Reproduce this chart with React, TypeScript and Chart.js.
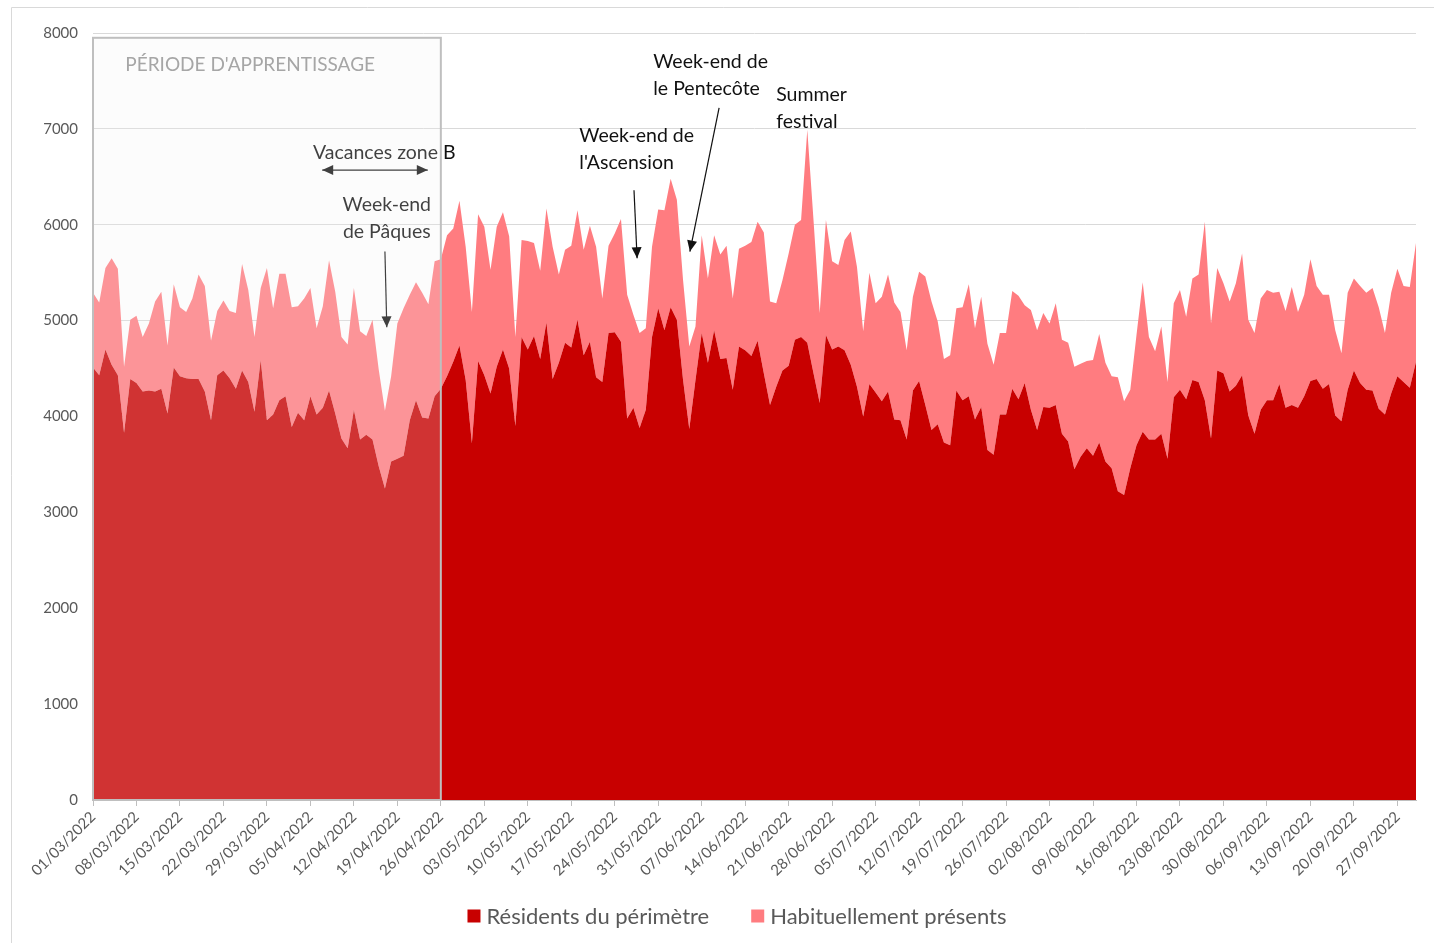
import React, { useEffect, useRef } from 'react';
import { Chart, registerables } from 'chart.js';

Chart.register(...registerables);

const FONT = "Lato, 'Noto Sans', sans-serif";

const weekLabels = [
  '01/03/2022', '08/03/2022', '15/03/2022', '22/03/2022', '29/03/2022', '05/04/2022',
  '12/04/2022', '19/04/2022', '26/04/2022', '03/05/2022', '10/05/2022', '17/05/2022',
  '24/05/2022', '31/05/2022', '07/06/2022', '14/06/2022', '21/06/2022', '28/06/2022',
  '05/07/2022', '12/07/2022', '19/07/2022', '26/07/2022', '02/08/2022', '09/08/2022',
  '16/08/2022', '23/08/2022', '30/08/2022', '06/09/2022', '13/09/2022', '20/09/2022',
  '27/09/2022',
];

const yTickValues = [0, 1000, 2000, 3000, 4000, 5000, 6000, 7000, 8000];

const seriesNames = ['Résidents du périmètre', 'Habituellement présents'];
const seriesColors = ['#C80000', '#FF7C80'];

// Résidents du périmètre (daily, 01/03/2022 -> 30/09/2022)
const residents = [
  4510, 4430, 4700, 4540, 4430, 3830, 4390, 4350, 4260, 4270,
  4260, 4290, 4030, 4510, 4420, 4400, 4390, 4390, 4260, 3960,
  4430, 4480, 4400, 4290, 4480, 4360, 4050, 4590, 3960, 4020,
  4170, 4210, 3890, 4040, 3960, 4210, 4020, 4090, 4270, 4030,
  3770, 3670, 4070, 3760, 3810, 3760, 3480, 3250, 3530, 3560,
  3590, 3960, 4170, 3990, 3980, 4210, 4290, 4420, 4570, 4740,
  4380, 3720, 4580, 4430, 4240, 4520, 4700, 4500, 3900, 4830,
  4700, 4840, 4600, 4980, 4390, 4560, 4770, 4720, 5010, 4640,
  4780, 4410, 4360, 4870, 4880, 4780, 3980, 4090, 3880, 4070,
  4830, 5130, 4900, 5140, 5010, 4380, 3870, 4380, 4870, 4560,
  4900, 4600, 4610, 4280, 4730, 4690, 4630, 4790, 4450, 4120,
  4310, 4480, 4530, 4800, 4830, 4770, 4450, 4140, 4850, 4700,
  4730, 4690, 4540, 4310, 4000, 4340, 4250, 4160, 4260, 3970,
  3960, 3760, 4270, 4370, 4120, 3860, 3920, 3730, 3700, 4270,
  4170, 4210, 3970, 4100, 3650, 3600, 4020, 4020, 4290, 4180,
  4350, 4070, 3860, 4100, 4090, 4120, 3820, 3740, 3450, 3580,
  3670, 3590, 3730, 3530, 3460, 3220, 3180, 3460, 3700, 3840,
  3760, 3760, 3820, 3560, 4200, 4280, 4180, 4380, 4360, 4170,
  3770, 4480, 4450, 4260, 4320, 4430, 4010, 3820, 4070, 4170,
  4170, 4340, 4090, 4120, 4090, 4210, 4370, 4390, 4290, 4340,
  4010, 3950, 4280, 4480, 4350, 4280, 4270, 4080, 4020, 4240,
  4420, 4360, 4300, 4570,
];

// Habituellement présents (stacked on top of residents)
const habituels = [
  780, 760, 850, 1110, 1110, 690, 620, 700, 570, 700,
  940, 1010, 710, 870, 720, 690, 840, 1090, 1100, 830,
  670, 730, 700, 790, 1110, 960, 780, 750, 1590, 1110,
  1320, 1280, 1250, 1110, 1270, 1130, 900, 1060, 1360, 1270,
  1060, 1080, 1270, 1130, 1030, 1250, 1010, 810, 890, 1410,
  1540, 1310, 1230, 1300, 1190, 1410, 1350, 1470, 1390, 1510,
  1390, 1370, 1530, 1550, 1290, 1460, 1430, 1380, 930, 1010,
  1130, 970, 920, 1190, 1380, 920, 970, 1060, 1140, 1100,
  1210, 1360, 870, 910, 1030, 1280, 1290, 970, 990, 850,
  940, 1030, 1250, 1340, 1250, 1040, 860, 560, 1020, 880,
  990, 1090, 1170, 950, 1020, 1090, 1190, 1240, 1470, 1080,
  870, 940, 1170, 1200, 1220, 2220, 1600, 940, 1200, 920,
  850, 1150, 1390, 1250, 890, 1160, 930, 1090, 1220, 1220,
  1130, 930, 980, 1140, 1340, 1340, 1070, 870, 940, 860,
  970, 1170, 950, 1150, 1110, 940, 850, 850, 1020, 1080,
  810, 1040, 1040, 980, 880, 1060, 980, 1030, 1070, 970,
  910, 1000, 1130, 1030, 960, 1190, 980, 820, 1150, 1560,
  1070, 920, 1120, 800, 980, 1040, 860, 1060, 1120, 1860,
  1200, 1070, 940, 940, 1070, 1270, 1000, 1050, 1160, 1150,
  1120, 960, 1010, 1230, 1000, 1060, 1270, 970, 980, 930,
  890, 710, 1010, 960, 1010, 1010, 1070, 1060, 850, 1050,
  1120, 1000, 1050, 1240,
];

// Learning period: first day index -> last day index (01/03 -> 26/04)
const learningPeriod = [0, 56];
const learningLabel = "PÉRIODE D'APPRENTISSAGE";

// Annotations (positions in data units: day index, value)
const annotationTexts = [
  { lines: ['Vacances zone B'], at: [46.9, 6750], align: 'center' },
  { lines: ['Week-end', 'de Pâques'], at: [47.3, 6210], align: 'center' },
  { lines: ['Week-end de', "l'Ascension"], at: [78.3, 6930], align: 'left' },
  { lines: ['Week-end de', 'le Pentecôte'], at: [90.2, 7700], align: 'left' },
  { lines: ['Summer', 'festival'], at: [110.0, 7355], align: 'left' },
];
const annotationArrows = [
  { from: [36.9, 6570], to: [53.9, 6570], both: true },
  { from: [47.0, 5720], to: [47.3, 4930], both: false },
  { from: [87.1, 6360], to: [87.6, 5650], both: false },
  { from: [100.8, 7220], to: [96.1, 5720], both: false },
];

const dayLabels: string[] = residents.map((_, i) => {
  const d = new Date(Date.UTC(2022, 2, 1) + i * 86400000);
  const dd = String(d.getUTCDate()).padStart(2, '0');
  const mm = String(d.getUTCMonth() + 1).padStart(2, '0');
  return `${dd}/${mm}/${d.getUTCFullYear()}`;
});

function arrowHead(ctx: CanvasRenderingContext2D, x1: number, y1: number, x2: number, y2: number) {
  const ang = Math.atan2(y2 - y1, x2 - x1);
  const len = 11;
  const half = 5;
  ctx.beginPath();
  ctx.moveTo(x2, y2);
  ctx.lineTo(x2 - len * Math.cos(ang) + half * Math.sin(ang), y2 - len * Math.sin(ang) - half * Math.cos(ang));
  ctx.lineTo(x2 - len * Math.cos(ang) - half * Math.sin(ang), y2 - len * Math.sin(ang) + half * Math.cos(ang));
  ctx.closePath();
  ctx.fill();
}

const overlayPlugin = {
  id: 'overlayPlugin',
  afterDatasetsDraw(chart: any) {
    const { ctx, scales } = chart;
    const xs = scales.x;
    const ys = scales.y;
    ctx.save();
    // annotations
    ctx.font = `19.5px ${FONT}`;
    ctx.fillStyle = '#111111';
    ctx.textBaseline = 'middle';
    annotationTexts.forEach((a) => {
      const x = xs.getPixelForValue(a.at[0]);
      const y = ys.getPixelForValue(a.at[1]);
      ctx.textAlign = a.align;
      a.lines.forEach((l, k) => ctx.fillText(l, x, y + k * 27));
    });
    ctx.strokeStyle = '#111111';
    ctx.lineWidth = 1.2;
    annotationArrows.forEach((a) => {
      const x1 = xs.getPixelForValue(a.from[0]);
      const y1 = ys.getPixelForValue(a.from[1]);
      const x2 = xs.getPixelForValue(a.to[0]);
      const y2 = ys.getPixelForValue(a.to[1]);
      ctx.beginPath();
      ctx.moveTo(x1, y1);
      ctx.lineTo(x2, y2);
      ctx.stroke();
      arrowHead(ctx, x1, y1, x2, y2);
      if (a.both) arrowHead(ctx, x2, y2, x1, y1);
    });
    // learning period box
    const bx0 = xs.getPixelForValue(learningPeriod[0]);
    const bx1 = xs.getPixelForValue(learningPeriod[1]);
    const by0 = ys.getPixelForValue(7950);
    const by1 = ys.getPixelForValue(0);
    ctx.fillStyle = 'rgba(242,242,242,0.21)';
    ctx.fillRect(bx0, by0, bx1 - bx0, by1 - by0);
    ctx.strokeStyle = '#BFBFBF';
    ctx.lineWidth = 2;
    ctx.strokeRect(bx0, by0, bx1 - bx0, by1 - by0);
    ctx.font = `19px ${FONT}`;
    ctx.fillStyle = '#A6A6A6';
    ctx.textAlign = 'left';
    ctx.fillText(learningLabel, xs.getPixelForValue(5.2), ys.getPixelForValue(7670));
    ctx.restore();
  },
  afterDraw(chart: any) {
    const { ctx } = chart;
    ctx.save();
    // outer frame
    ctx.strokeStyle = '#D9D9D9';
    ctx.lineWidth = 1;
    ctx.beginPath();
    ctx.moveTo(11.5, chart.height + 5);
    ctx.lineTo(11.5, 7.5);
    ctx.lineTo(chart.width + 5, 7.5);
    ctx.stroke();
    // legend
    ctx.font = `22px ${FONT}`;
    ctx.textBaseline = 'middle';
    ctx.textAlign = 'left';
    const box = 13;
    const gap = 6;
    const spacing = 42;
    const widths = seriesNames.map((n) => ctx.measureText(n).width);
    const total = widths.reduce((s, w) => s + box + gap + w, 0) + spacing;
    let x = 737 - total / 2;
    const y = 916;
    seriesNames.forEach((n, k) => {
      ctx.fillStyle = seriesColors[k];
      ctx.fillRect(x, y - box / 2, box, box);
      ctx.fillStyle = '#595959';
      ctx.fillText(n, x + box + gap, y + 1);
      x += box + gap + widths[k] + spacing;
    });
    ctx.restore();
  },
};

export default function App() {
  const ref = useRef<HTMLCanvasElement>(null);
  useEffect(() => {
    if (!ref.current) return;
    const chart = new Chart(ref.current, {
      type: 'line',
      data: {
        labels: dayLabels,
        datasets: [
          {
            label: seriesNames[0],
            data: residents,
            backgroundColor: seriesColors[0],
            borderColor: seriesColors[0],
            borderWidth: 0,
            pointRadius: 0,
            tension: 0,
            fill: 'origin',
          },
          {
            label: seriesNames[1],
            data: habituels,
            backgroundColor: seriesColors[1],
            borderColor: seriesColors[1],
            borderWidth: 0,
            pointRadius: 0,
            tension: 0,
            fill: '-1',
          },
        ],
      },
      options: {
        responsive: false,
        animation: false,
        events: [],
        layout: { padding: { top: 33, right: 18, left: 0, bottom: 0 } },
        plugins: { legend: { display: false }, tooltip: { enabled: false } },
        scales: {
          x: {
            type: 'category',
            stacked: true,
            offset: false,
            grid: {
              drawOnChartArea: false,
              drawTicks: true,
              tickLength: 6,
              tickColor: (c: any) => (c.index % 7 === 0 ? '#BFBFBF' : 'rgba(0,0,0,0)'),
            },
            border: { display: true, color: '#BFBFBF', width: 1 },
            ticks: {
              autoSkip: false,
              minRotation: 45,
              maxRotation: 45,
              padding: 2,
              color: '#595959',
              font: { family: FONT, size: 15 },
              callback: (_v: any, i: number) => (i % 7 === 0 ? weekLabels[i / 7] : ''),
            },
            afterFit: (s: any) => {
              s.height = 143;
            },
          },
          y: {
            stacked: true,
            min: yTickValues[0],
            max: yTickValues[yTickValues.length - 1],
            afterBuildTicks: (s: any) => {
              s.ticks = yTickValues.map((v) => ({ value: v }));
            },
            grid: { color: '#D9D9D9', drawTicks: false, lineWidth: 1 },
            border: { display: false },
            ticks: {
              padding: 15,
              color: '#595959',
              font: { family: FONT, size: 15 },
              callback: (v: any) => String(v),
            },
            afterFit: (s: any) => {
              s.width = 93;
            },
          },
        },
      },
      plugins: [overlayPlugin],
    });
    return () => chart.destroy();
  }, []);
  return (
    <div style={{ position: 'absolute', left: 0, top: 0, width: 1434, height: 943, background: '#fff' }}>
      <canvas ref={ref} width={1434} height={943} />
    </div>
  );
}
